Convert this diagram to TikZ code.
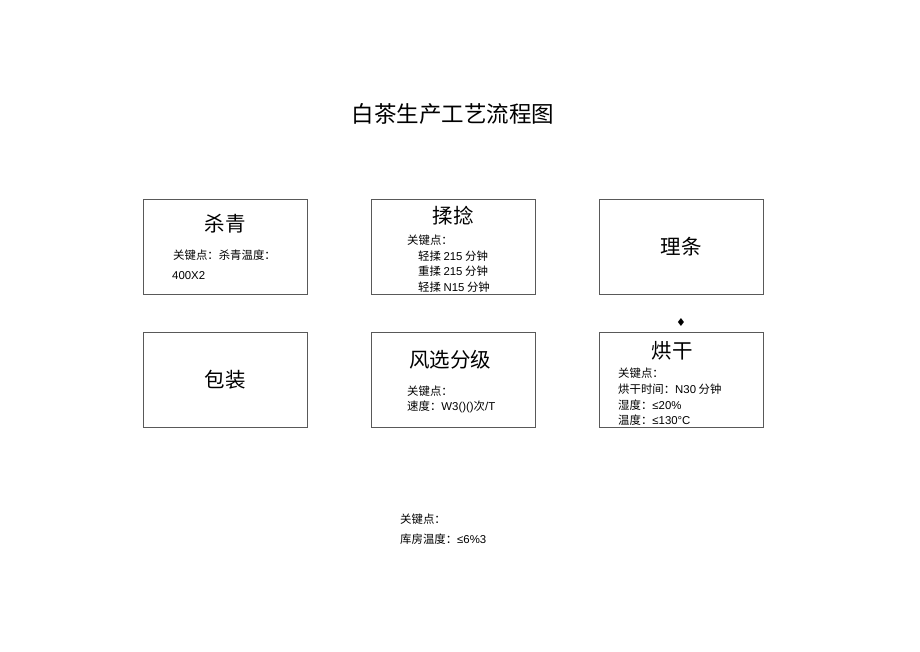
\documentclass[tikz,border=0pt]{standalone}
\usepackage{fontspec}
\setmainfont{Noto Sans CJK SC}
\newfontfamily\symb{DejaVu Sans}
\newfontfamily\latin{Liberation Sans}
\usetikzlibrary{positioning}
\tikzset{
  stage/.style={draw=black!65, line width=0.8pt, minimum width=164pt, minimum height=95pt, inner sep=0pt, font=\fontsize{20.5}{24}\selectfont},
  stage title/.style={font=\fontsize{20.5}{24}\selectfont, inner sep=0pt},
  key note/.style={font=\fontsize{11.4}{13}\selectfont, anchor=west, inner sep=0pt},
}

\begin{document}
\begin{tikzpicture}[x=1pt,y=-1pt]
\useasboundingbox (0,0) rectangle (920,651);
%the title
\node [font=\fontsize{22.5}{26}\selectfont, inner sep=0pt] (title) at (453,114) {白茶生产工艺流程图};
%the boxes
\node [stage] (sq) at (225,246.5) {};
\node [stage] (rn) at (453,246.5) {};
\node [stage] (lt) at (681,246.5) {理条};
\node [stage] (bz) at (225,379.5) {包装};
\node [stage] (fx) at (453,379.5) {};
\node [stage] (hg) at (681,379.5) {};
%the box titles
\node [stage title] (sqT) at (225,224) {杀青};
\node [stage title] (rnT) at (453,216) {揉捻};
\node [stage title] (fxT) at (450,360) {风选分级};
\node [stage title] (hgT) at (672,351) {烘干};
%key points
\node [key note] (sq1) at (173,255) {关键点：杀青温度：};
\node [key note] (sq2) at (172,276) {\latin 400X2};
\node [key note] (rn1) at (407,240) {关键点：};
\node [key note] (rn2) at (418,256) {轻揉 {\latin 215} 分钟};
\node [key note] (rn3) at (418,271.5) {重揉 {\latin 215} 分钟};
\node [key note] (rn4) at (418,287) {轻揉 {\latin N15} 分钟};
\node [key note] (fx1) at (407,391) {关键点：};
\node [key note] (fx2) at (407,407) {速度：{\latin W3()()}次{\latin /T}};
\node [key note] (hg1) at (618,373) {关键点：};
\node [key note] (hg2) at (618,389) {烘干时间：{\latin N30} 分钟};
\node [key note] (hg3) at (618,405) {湿度：{\latin ≤20\%}};
\node [key note] (hg4) at (618,420) {温度：{\latin ≤130°C}};
\node [key note] (st1) at (400,519) {关键点：};
\node [key note] (st2) at (400,539) {库房温度：{\latin ≤6\%3}};
%the mark
\node [font=\symb\fontsize{11}{13}\selectfont, inner sep=0pt] (mk) at (681,322) {♦};
\end{tikzpicture}
\end{document}
